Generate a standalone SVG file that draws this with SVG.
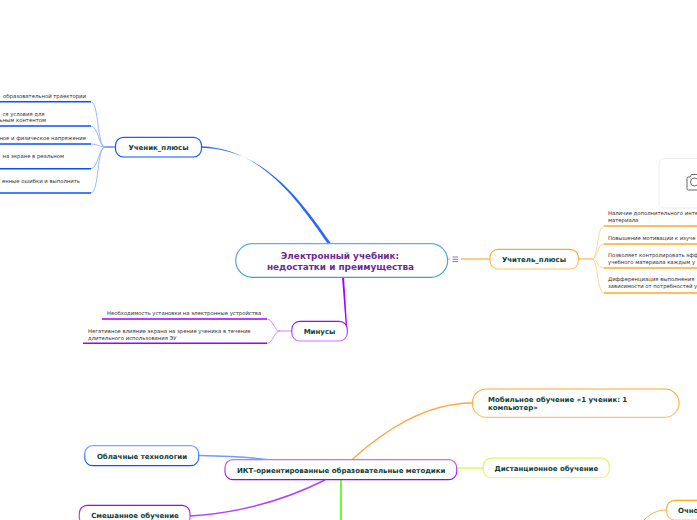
<svg xmlns="http://www.w3.org/2000/svg" width="697" height="520" viewBox="0 0 697 520">
<defs>
<linearGradient id="gBlue" x1="0" y1="0" x2="0" y2="1"><stop offset="0" stop-color="#1a5cff"/><stop offset="1" stop-color="#0a50ff"/></linearGradient>
<linearGradient id="gBlue2" x1="0" y1="0" x2="0" y2="1"><stop offset="0" stop-color="#7fa6ff"/><stop offset="1" stop-color="#0a50ff"/></linearGradient>
<linearGradient id="gOrange" x1="0" y1="0" x2="0" y2="1"><stop offset="0" stop-color="#ffa726"/><stop offset="1" stop-color="#ffc46e"/></linearGradient>
<linearGradient id="gPurple" x1="0" y1="0" x2="0" y2="1"><stop offset="0" stop-color="#a000ff"/><stop offset="1" stop-color="#cc7aff"/></linearGradient>
<linearGradient id="gPurple3" x1="0" y1="0" x2="0" y2="1"><stop offset="0" stop-color="#c070ff"/><stop offset="1" stop-color="#a000ff"/></linearGradient>
<linearGradient id="gYellow" x1="0" y1="0" x2="0" y2="1"><stop offset="0" stop-color="#d4f53c"/><stop offset="1" stop-color="#e6fa80"/></linearGradient>
<linearGradient id="gCentre" x1="0" y1="0" x2="0" y2="1"><stop offset="0" stop-color="#62aee0"/><stop offset="1" stop-color="#3f9ade"/></linearGradient>
</defs>
<style>
text{font-family:"DejaVu Sans",Verdana,sans-serif}
.n{fill:#fff;stroke-width:1.2}
.t{font-size:7px;font-weight:700;fill:#0f4038}
.m{text-anchor:middle}
.s{font-size:5.3px;fill:#2e2e2e}
.e{text-anchor:end}
.lb{stroke:#0a50ff;stroke-width:1.4;fill:none}
.lo{stroke:#ffab2e;stroke-width:1.4;fill:none}
.lp{stroke:#a000ff;stroke-width:1.4;fill:none}
.cb{stroke:#8cb0ff;stroke-width:.9;fill:none}
.co{stroke:#ffcf8a;stroke-width:.9;fill:none}
.cp{stroke:#cf85ff;stroke-width:.9;fill:none}
</style>
<g id="connectors">
<path d="M201 146.300C262 148.500 298 201 328.300 244.500L330.700 243C300 199 264 149 201 147.700Z" fill="#2a66ff"/>
<path d="M342 277L346.200 331L347.400 331L344 277Z" fill="#a000ff"/>
<path d="M447.500 259H450" stroke="#ffab2e" stroke-width="1"/>
<path d="M461 259H490" stroke="#ffab2e" stroke-width="1.200"/>
<path d="M351.500 460C385 430 425 403.500 472 403" stroke="#ffa840" stroke-width="1.300" fill="none"/>
<path d="M457 468H483" stroke="#e6fa80" stroke-width="2" fill="none"/>
<path d="M199 455.500C225 456 250 457 272 460" stroke="#6f9aff" stroke-width="1.300" fill="none"/>
<path d="M190 516C240 513 285 500 325 480" stroke="#b040ff" stroke-width="1.400" fill="none"/>
<path d="M341 480V520" stroke="#66ff33" stroke-width="2" fill="none"/>
<path d="M666.500 510C657 510 650 514 644 520" stroke="#ffb04a" stroke-width="1" fill="none"/>
<path d="M115 147H105" stroke="#0a50ff" stroke-width="1"/>
<path class="cb" d="M105 147C97 147 99 102 91 101.700"/>
<path class="cb" d="M105 147C99 147 98 126 91 126"/>
<path class="cb" d="M105 147C99 147 98 144 91 144"/>
<path class="cb" d="M105 147C99 147 98 168.700 91 168.700"/>
<path class="cb" d="M105 147C97 147 99 193 91 193"/>
<path class="lb" d="M0 101.700H91M0 126H91M0 144H91M0 168.700H91M0 193H91"/>
<path d="M578 259H592" stroke="#ffab2e" stroke-width="1"/>
<path class="co" d="M592 259C598 259 597 226 604 226"/>
<path class="co" d="M592 259C598 259 597 244 604 244"/>
<path class="co" d="M592 259C598 259 597 268 604 268"/>
<path class="co" d="M592 259C598 259 597 293 604 293"/>
<path class="lo" d="M604 226H697M604 244H697M604 268H697M604 293H697"/>
<path d="M292 331H280" stroke="#cf85ff" stroke-width="1"/>
<path class="cp" d="M280 331C274 331 273 319 267 319"/>
<path class="cp" d="M280 331C274 331 273 343.300 267 343.300"/>
<path class="lp" d="M102 319H267M83 343.300H267"/>
</g>
<g id="node-centre">
<rect class="n" x="235.700" y="243.700" width="212" height="33.600" rx="16.800" stroke="url(#gCentre)"/>
<text class="m" x="340" y="259" font-size="8.900" font-weight="700" fill="#6a2c91">Электронный учебник:</text>
<text class="m" x="340.500" y="270" font-size="8.900" font-weight="700" fill="#6a2c91">недостатки и преимущества</text>
</g>
<g id="node-note-icon"><path d="M452.500 257H458M452.500 259.300H458M452.500 261.600H458" stroke="#7b4ea3" stroke-width=".8" fill="none"/></g>
<g id="node-student">
<rect class="n" x="115.500" y="137.300" width="86" height="19.700" rx="8" stroke="url(#gBlue)"/>
<text class="t m" x="158.500" y="150">Ученик_плюсы</text>
</g>
<g id="student-leaves">
<text class="s e" x="86" y="98">образовательной траектории</text>
<text class="s e" x="44.500" y="116">ся условия для</text>
<text class="s e" x="46" y="122">ьным контентом</text>
<text class="s e" x="86" y="140">ное и физическое напряжение</text>
<text class="s e" x="64" y="158">на экране в реальном</text>
<text class="s e" x="80" y="183">енные ошибки и выполнить</text>
</g>
<g id="node-teacher">
<rect class="n" x="490" y="249.300" width="88.300" height="19.700" rx="8" stroke="url(#gOrange)"/>
<text class="t m" x="534" y="261.700">Учитель_плюсы</text>
</g>
<g id="teacher-leaves">
<text class="s" x="608" y="214.700">Наличие дополнительного инте</text>
<text class="s" x="608" y="221.700">материала</text>
<text class="s" x="608" y="239.700">Повышение мотивации к изуче</text>
<text class="s" x="608" y="256.700">Позволяет контролировать эфф</text>
<text class="s" x="608" y="263.700">учебного материала каждым у</text>
<text class="s" x="608" y="281.300">Дифференциация выполнения</text>
<text class="s" x="608" y="288.300">зависимости от потребностей у</text>
</g>
<g id="node-image">
<rect x="659" y="158.500" width="60" height="49.500" rx="5" fill="#fff" stroke="#ececec" stroke-width="1"/>
<path d="M687 178.500a1.500 1.500 0 0 1 1.500-1.500h1.500l1.500-2.500h8v15.500h-11a1.500 1.500 0 0 1-1.500-1.500Z" fill="none" stroke="#666" stroke-width="1"/>
<circle cx="694.500" cy="182" r="4" fill="none" stroke="#666" stroke-width="1"/>
</g>
<g id="node-minus">
<rect class="n" x="291.800" y="321.300" width="55.500" height="19.700" rx="8" stroke="url(#gPurple)"/>
<text class="t m" x="319.500" y="333.700">Минусы</text>
</g>
<g id="minus-leaves">
<text class="s" x="107" y="315">Необходимость установки на электронные устройства</text>
<text class="s" x="88" y="332.500">Негативное влияние экрана на зрение ученика в течение</text>
<text class="s" x="88" y="339.700">длительного использования ЭУ</text>
</g>
<g id="node-ict">
<rect class="n" x="225" y="459.700" width="231.700" height="20" rx="8" stroke="url(#gPurple3)"/>
<text class="t" x="237" y="472.500">ИКТ-ориентированные образовательные методики</text>
</g>
<g id="node-cloud">
<rect class="n" x="84.700" y="445.700" width="114" height="20" rx="8" stroke="url(#gBlue2)"/>
<text class="t m" x="142" y="458.500">Облачные технологии</text>
</g>
<g id="node-blended">
<rect class="n" x="79.300" y="505.300" width="110.700" height="20" rx="8" stroke="url(#gPurple)"/>
<text class="t m" x="135" y="518">Смешанное обучение</text>
</g>
<g id="node-mobile">
<rect class="n" x="472.300" y="389" width="206.700" height="28.300" rx="14" stroke="url(#gOrange)"/>
<text class="t" x="488" y="402">Мобильное обучение «1 ученик: 1</text>
<text class="t" x="488" y="410.300">компьютер»</text>
</g>
<g id="node-distance">
<rect class="n" x="483.300" y="458" width="126" height="19.700" rx="8" stroke="url(#gYellow)"/>
<text class="t m" x="546.300" y="470.700">Дистанционное обучение</text>
</g>
<g id="node-fulltime">
<rect class="n" x="666.700" y="500.300" width="60" height="19.700" rx="8" stroke="url(#gOrange)"/>
<text class="t" x="678" y="513">Очно</text>
</g>
</svg>
